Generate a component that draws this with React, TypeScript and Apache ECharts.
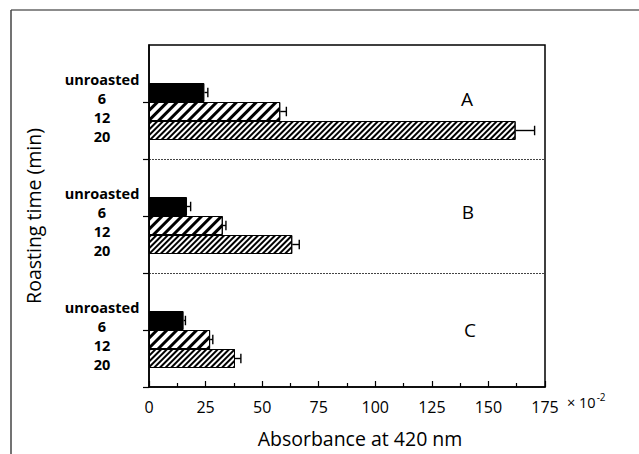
import React, { useEffect, useRef } from "react";
import * as echarts from "echarts";

// ---- data ----
const panels = ["A", "B", "C"];
const roastLabels = ["unroasted", "6", "12", "20"];
const sixMin = [24.5, 16.8, 15.3];
const twelveMin = [58, 32.6, 27];
const twentyMin = [162, 63.3, 38];
const sixErr = [1.5, 1.6, 0.8];
const twelveErr = [2.7, 1.4, 1.2];
const twentyErr = [8.4, 3.1, 2.6];
const xTicks = [0, 25, 50, 75, 100, 125, 150, 175];

// rows: per panel -> gap, unroasted, 6, 12, 20, gap
const rowsPerPanel = 6;
const categories: string[] = [];
panels.forEach((p) => {
  categories.push(`${p}|`);
  roastLabels.forEach((r) => categories.push(`${p}|${r}`));
  categories.push(`${p}| `);
});

function seriesData(vals: number[], offset: number) {
  const arr: (number | string)[] = categories.map(() => "-");
  vals.forEach((v, i) => {
    arr[i * rowsPerPanel + offset] = v;
  });
  return arr;
}
function errData(vals: number[], errs: number[], offset: number) {
  return vals.map((v, i) => [v, i * rowsPerPanel + offset, errs[i]]);
}

const FONT = "Open Sans";

export default function App() {
  const ref = useRef<HTMLDivElement>(null);
  useEffect(() => {
    document.body.style.margin = "0";
    const chart = echarts.init(ref.current!, null, { renderer: "svg" });

    const wideHatch = {
      symbol: "rect",
      symbolSize: 1,
      rotation: -Math.PI / 4,
      dashArrayX: [1, 0],
      dashArrayY: [2.8, 3.8],
      color: "#000",
      backgroundColor: "#fff",
    };
    const fineHatch = {
      symbol: "rect",
      symbolSize: 1,
      rotation: -Math.PI / 4,
      dashArrayX: [1, 0],
      dashArrayY: [1.1, 1.8],
      color: "#000",
      backgroundColor: "#fff",
    };

    const barBase = {
      type: "bar",
      barWidth: "100%",
      barGap: "-100%",
      barCategoryGap: "0%",
    };

    const errorSeries = (data: number[][]) => ({
      type: "custom",
      encode: { x: 0, y: 1 },
      data,
      z: 5,
      renderItem: (params: any, api: any) => {
        const v = api.value(0);
        const row = api.value(1);
        const e = api.value(2);
        const p0 = api.coord([v, row]);
        const p1 = api.coord([v + e, row]);
        const h = api.size([0, 1])[1] * 0.25;
        const style = { stroke: "#000", lineWidth: 1.4 };
        return {
          type: "group",
          children: [
            { type: "line", shape: { x1: p0[0], y1: p0[1], x2: p1[0], y2: p1[1] }, style },
            { type: "line", shape: { x1: p1[0], y1: p1[1] - h, x2: p1[0], y2: p1[1] + h }, style },
          ],
        };
      },
    });

    const option: any = {
      animation: false,
      grid: {
        left: 149,
        top: 45,
        width: 396,
        height: 342,
        show: true,
        borderColor: "#000",
        borderWidth: 1.5,
        backgroundColor: "transparent",
      },
      xAxis: {
        type: "value",
        min: 0,
        max: 175,
        interval: 25,
        axisLine: { show: true, lineStyle: { color: "#000", width: 1.5 } },
        axisTick: { show: true, inside: true, length: 6, lineStyle: { color: "#000", width: 1.2 } },
        minorTick: { show: true, splitNumber: 2, length: 4, lineStyle: { color: "#000", width: 1.2 } },
        splitLine: { show: false },
        axisLabel: {
          margin: 12,
          fontFamily: FONT,
          fontSize: 16,
          color: "#000",
          formatter: (v: number) => (xTicks.includes(v) ? String(v) : ""),
        },
        name: "Absorbance at 420 nm",
        nameLocation: "middle",
        nameGap: 41,
        nameTextStyle: { fontFamily: FONT, fontSize: 19.5, color: "#000", padding: [0, 0, 0, 26] },
      },
      yAxis: {
        type: "category",
        inverse: true,
        data: categories,
        axisLine: { show: true, lineStyle: { color: "#000", width: 1.5 } },
        axisTick: {
          show: true,
          inside: false,
          length: 6,
          interval: (i: number) => i > 0 && i % 3 === 0,
          lineStyle: { color: "#000", width: 1.2 },
        },
        splitLine: {
          show: true,
          interval: (i: number) => i === 6 || i === 12,
          lineStyle: { color: "#444", width: 1, type: [2, 1] },
        },
        axisLabel: {
          interval: 0,
          margin: 47,
          align: "center",
          verticalAlign: "top",
          lineHeight: 12,
          fontFamily: FONT,
          fontWeight: "bold",
          fontSize: 14.5,
          color: "#000",
          formatter: (v: string) => v.split("|")[1],
        },
        name: "Roasting time (min)",
        nameLocation: "middle",
        nameGap: 106,
        nameTextStyle: { fontFamily: FONT, fontSize: 19.5, color: "#000" },
      },
      graphic: [
        { type: "line", shape: { x1: 11, y1: 10, x2: 639, y2: 10 }, style: { stroke: "#666", lineWidth: 1.5 } },
        { type: "line", shape: { x1: 11, y1: 10, x2: 11, y2: 454 }, style: { stroke: "#444", lineWidth: 1.5 } },
        ...panels.map((p, i) => ({
          type: "text",
          x: [467, 468, 470][i],
          y: [99, 212, 330][i],
          style: {
            text: p,
            fontFamily: FONT,
            fontSize: 19,
            fill: "#000",
            align: "center",
            verticalAlign: "middle",
          },
        })),
        {
          type: "text",
          x: 567,
          y: 412,
          style: {
            text: "{a|× 10}{b|-2}",
            verticalAlign: "bottom",
            rich: {
              a: { fontFamily: FONT, fontSize: 14.5, fill: "#000" },
              b: { fontFamily: FONT, fontSize: 10, fill: "#000", verticalAlign: "top", padding: [0, 0, 10, 1] },
            },
          },
        },
      ],
      series: [
        {
          ...barBase,
          name: "6",
          data: seriesData(sixMin, 2),
          itemStyle: { color: "#000", borderColor: "#000", borderWidth: 1 },
        },
        {
          ...barBase,
          name: "12",
          data: seriesData(twelveMin, 3),
          itemStyle: { color: "#fff", borderColor: "#000", borderWidth: 1, decal: wideHatch },
        },
        {
          ...barBase,
          name: "20",
          data: seriesData(twentyMin, 4),
          itemStyle: { color: "#fff", borderColor: "#000", borderWidth: 1, decal: fineHatch },
        },
        errorSeries(errData(sixMin, sixErr, 2)),
        errorSeries(errData(twelveMin, twelveErr, 3)),
        errorSeries(errData(twentyMin, twentyErr, 4)),
      ],
    };
    chart.setOption(option);
    return () => chart.dispose();
  }, []);
  return <div ref={ref} style={{ width: 639, height: 454 }} />;
}
